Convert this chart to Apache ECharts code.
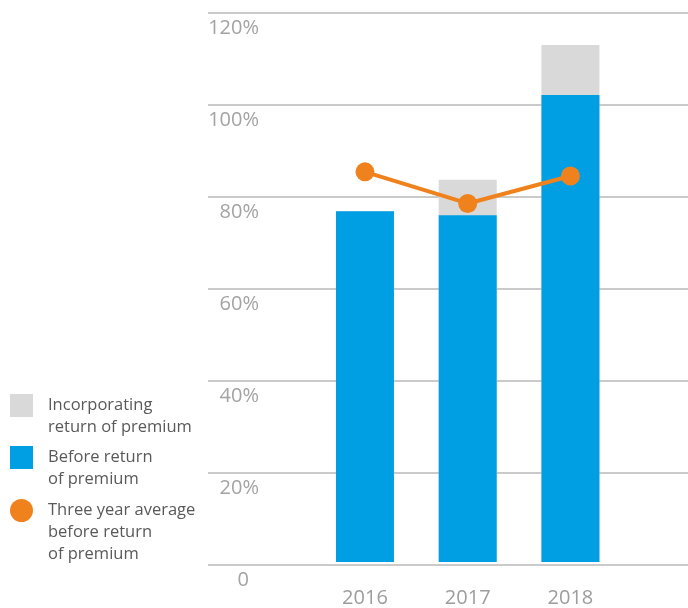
<!DOCTYPE html>
<html>
<head>
<meta charset="utf-8">
<script src="https://cdn.jsdelivr.net/npm/echarts@6/dist/echarts.min.js"></script>
<style>
  html, body { margin: 0; padding: 0; background: #ffffff; }
  #chart { width: 688px; height: 608px; }
</style>
</head>
<body>
<div id="chart"></div>
<script>
// Combined ratio by year
const years = ['2016', '2017', '2018'];
const incorporatingReturn = [76.6, 83.5, 112.9];   // incl. return of premium
const beforeReturn = [76.6, 75.7, 102.0];          // before return of premium
const threeYearAverage = [85.2, 78.3, 84.3];       // three year average before return
const yTicks = [0, 20, 40, 60, 80, 100, 120];

const legendNames = [
  'Incorporating\nreturn of premium',
  'Before return\nof premium',
  'Three year average\nbefore return\nof premium'
];

const FONT = '"Open Sans", "Noto Sans", sans-serif';
const GRAY = '#d9d9d9';
const BLUE = '#009fe3';
const ORANGE = '#f0821e';
const LEGEND_TEXT = '#595959';

const chart = echarts.init(document.getElementById('chart'), null, { renderer: 'canvas' });

// Key in the lower left: swatch plus multi-line caption, first line level with the swatch
function legendText(text, top) {
  return {
    type: 'text',
    left: 48,
    top: top,
    silent: true,
    style: {
      text: text,
      fontFamily: FONT,
      fontSize: 16.5,
      lineHeight: 22,
      fill: LEGEND_TEXT,
      verticalAlign: 'top'
    }
  };
}

const option = {
  animation: false,
  backgroundColor: '#ffffff',
  graphic: [
    { type: 'rect', left: 10, top: 394, shape: { width: 23, height: 23 }, style: { fill: GRAY }, silent: true },
    legendText(legendNames[0], 394),
    { type: 'rect', left: 10, top: 446, shape: { width: 23, height: 23 }, style: { fill: BLUE }, silent: true },
    legendText(legendNames[1], 446),
    { type: 'circle', left: 10, top: 499, shape: { r: 11.5 }, style: { fill: ORANGE }, silent: true },
    legendText(legendNames[2], 499)
  ],
  grid: [
    // wide grid carrying the horizontal rules and percentage labels
    { left: 208, right: 0, top: 12.5, bottom: 43.7 },
    // narrower grid for the yearly columns
    { left: 313.6, width: 308.2, top: 12.5, bottom: 43.7 }
  ],
  xAxis: [
    { gridIndex: 0, type: 'value', show: false, min: 0, max: 1 },
    {
      gridIndex: 1,
      type: 'category',
      data: years,
      axisLine: { show: false },
      axisTick: { show: false },
      axisLabel: {
        margin: 26,
        fontFamily: FONT,
        fontSize: 20,
        color: '#9d9d9d'
      }
    }
  ],
  yAxis: [
    {
      gridIndex: 0,
      type: 'value',
      min: 0,
      max: 120,
      interval: 20,
      axisLine: { show: false },
      axisTick: { show: false },
      splitLine: { lineStyle: { color: '#b8b8b8', width: 1.5 } },
      axisLabel: {
        margin: -51,
        align: 'right',
        verticalAlign: 'middle',
        padding: [32, 0, 0, 0],
        fontFamily: FONT,
        fontSize: 20,
        color: '#a3a3a3',
        formatter: function (v) {
          return v === 0 ? '{z|0}' : v + '%';
        },
        rich: {
          z: { fontFamily: FONT, fontSize: 20, color: '#a3a3a3', padding: [0, 10, 0, 0] }
        }
      }
    },
    { gridIndex: 1, type: 'value', min: 0, max: 120, show: false, splitLine: { show: false } }
  ],
  series: [
    {
      name: legendNames[0],
      type: 'bar',
      xAxisIndex: 1,
      yAxisIndex: 1,
      data: incorporatingReturn,
      barWidth: 58,
      itemStyle: { color: GRAY }
    },
    {
      name: legendNames[1],
      type: 'bar',
      xAxisIndex: 1,
      yAxisIndex: 1,
      data: beforeReturn,
      barWidth: 58,
      barGap: '-100%',
      itemStyle: { color: BLUE }
    },
    {
      name: legendNames[2],
      type: 'line',
      xAxisIndex: 1,
      yAxisIndex: 1,
      data: threeYearAverage,
      symbol: 'circle',
      symbolSize: 19,
      lineStyle: { color: ORANGE, width: 4 },
      itemStyle: { color: ORANGE },
      z: 5
    }
  ]
};

chart.setOption(option);
</script>
</body>
</html>
